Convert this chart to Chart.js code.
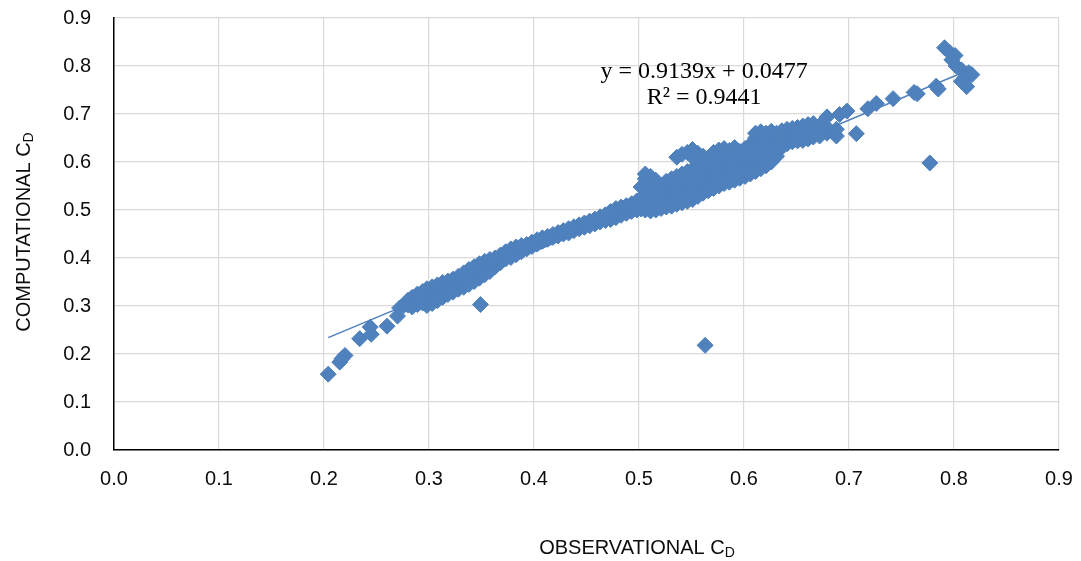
<!DOCTYPE html>
<html>
<head>
<meta charset="utf-8">
<script src="https://cdn.jsdelivr.net/npm/chart.js@4.4.0/dist/chart.umd.min.js"></script>
<style>
  html, body { margin: 0; padding: 0; background: #fff; }
  #wrap { width: 1081px; height: 561px; position: relative; }
</style>
</head>
<body>
<div id="wrap"><canvas id="cdChart"></canvas></div>
<script>
  // eixos
  const axisMin = 0, axisMax = 0.9, tickStep = 0.1;
  const xTitle = 'OBSERVATIONAL C', yTitle = 'COMPUTATIONAL C', titleSub = 'D';

  // linha de tendência (Excel)
  const trendSlope = 0.9139, trendIntercept = 0.0477;
  const eqLine1 = 'y = 0.9139x + 0.0477';
  const eqLine2 = 'R² = 0.9441';

  // pontos isolados da parte de baixo [obs, comp]
  const lowTail = [
    [0.204, 0.158], [0.215, 0.183], [0.217, 0.190], [0.220, 0.197],
    [0.234, 0.232], [0.244, 0.256], [0.245, 0.241], [0.260, 0.258],
    [0.270, 0.279], [0.272, 0.296], [0.276, 0.301]
  ];

  // faixa densa: [obs, [comp...]]
  const bandSlices = [
    [0.280, [0.302, 0.312]],
    [0.284, [0.298, 0.310, 0.318]],
    [0.289, [0.303, 0.316, 0.325]],
    [0.294, [0.306, 0.318, 0.330]],
    [0.298, [0.301, 0.312, 0.324, 0.336]],
    [0.303, [0.305, 0.316, 0.328, 0.340]],
    [0.308, [0.311, 0.322, 0.333, 0.344]],
    [0.313, [0.318, 0.330, 0.341, 0.349]],
    [0.318, [0.324, 0.335, 0.346, 0.352]],
    [0.323, [0.329, 0.340, 0.350, 0.356]],
    [0.328, [0.335, 0.346, 0.355, 0.362]],
    [0.333, [0.339, 0.350, 0.360, 0.369]],
    [0.338, [0.345, 0.356, 0.366, 0.376]],
    [0.343, [0.351, 0.362, 0.372, 0.382]],
    [0.348, [0.358, 0.368, 0.378, 0.388]],
    [0.353, [0.365, 0.375, 0.385, 0.393]],
    [0.358, [0.372, 0.382, 0.391, 0.397]],
    [0.363, [0.382, 0.391, 0.400]],
    [0.368, [0.390, 0.398, 0.406]],
    [0.373, [0.398, 0.406, 0.413]],
    [0.378, [0.401, 0.410, 0.419]],
    [0.383, [0.407, 0.416, 0.423]],
    [0.388, [0.413, 0.420, 0.426]],
    [0.393, [0.419, 0.428]],
    [0.398, [0.424, 0.433]],
    [0.403, [0.429, 0.438]],
    [0.408, [0.435, 0.442]],
    [0.413, [0.439, 0.445]],
    [0.418, [0.443, 0.449]],
    [0.423, [0.446, 0.453]],
    [0.428, [0.450, 0.457]],
    [0.433, [0.452, 0.461]],
    [0.438, [0.457, 0.465]],
    [0.443, [0.461, 0.469]],
    [0.448, [0.464, 0.473]],
    [0.453, [0.467, 0.477]],
    [0.458, [0.471, 0.481]],
    [0.463, [0.475, 0.486]],
    [0.468, [0.478, 0.490]],
    [0.473, [0.480, 0.489, 0.497]],
    [0.478, [0.484, 0.494, 0.503]],
    [0.483, [0.489, 0.498, 0.506]],
    [0.488, [0.493, 0.502, 0.509]],
    [0.493, [0.497, 0.506, 0.513]],
    [0.498, [0.500, 0.510, 0.519]],
    [0.502, [0.502, 0.513, 0.524, 0.548]],
    [0.506, [0.500, 0.512, 0.524, 0.533, 0.565, 0.575]],
    [0.511, [0.498, 0.510, 0.522, 0.534, 0.542, 0.570]],
    [0.516, [0.500, 0.512, 0.524, 0.536, 0.546, 0.562]],
    [0.521, [0.503, 0.515, 0.527, 0.539, 0.551]],
    [0.526, [0.506, 0.518, 0.530, 0.542, 0.554, 0.560]],
    [0.531, [0.508, 0.520, 0.532, 0.544, 0.556, 0.565]],
    [0.536, [0.512, 0.524, 0.536, 0.548, 0.560, 0.570, 0.610]],
    [0.541, [0.515, 0.527, 0.539, 0.551, 0.563, 0.575, 0.616]],
    [0.546, [0.518, 0.530, 0.542, 0.554, 0.566, 0.580, 0.620]],
    [0.551, [0.522, 0.534, 0.546, 0.558, 0.570, 0.585, 0.610, 0.626]],
    [0.556, [0.528, 0.540, 0.552, 0.564, 0.576, 0.588, 0.618]],
    [0.561, [0.535, 0.547, 0.559, 0.571, 0.583, 0.592, 0.612]],
    [0.566, [0.540, 0.552, 0.564, 0.576, 0.588, 0.597]],
    [0.571, [0.545, 0.557, 0.569, 0.581, 0.593, 0.601, 0.620]],
    [0.576, [0.550, 0.562, 0.574, 0.586, 0.598, 0.606, 0.625]],
    [0.581, [0.555, 0.567, 0.579, 0.591, 0.603, 0.611, 0.628]],
    [0.586, [0.558, 0.570, 0.582, 0.594, 0.606, 0.614, 0.624]],
    [0.591, [0.562, 0.574, 0.586, 0.598, 0.610, 0.618, 0.630]],
    [0.596, [0.566, 0.578, 0.590, 0.602, 0.614, 0.622]],
    [0.601, [0.570, 0.582, 0.594, 0.606, 0.618, 0.628]],
    [0.606, [0.575, 0.587, 0.599, 0.611, 0.623, 0.636]],
    [0.611, [0.580, 0.592, 0.604, 0.616, 0.628, 0.640, 0.650, 0.660]],
    [0.616, [0.586, 0.598, 0.610, 0.622, 0.634, 0.646, 0.656, 0.663]],
    [0.621, [0.592, 0.604, 0.616, 0.628, 0.640, 0.652, 0.660]],
    [0.626, [0.600, 0.612, 0.624, 0.636, 0.648, 0.658, 0.664]],
    [0.631, [0.612, 0.624, 0.636, 0.648, 0.660]],
    [0.636, [0.630, 0.642, 0.654, 0.665]],
    [0.641, [0.638, 0.650, 0.660, 0.668]],
    [0.646, [0.642, 0.653, 0.663, 0.670]],
    [0.651, [0.644, 0.655, 0.665, 0.672]],
    [0.656, [0.645, 0.656, 0.666, 0.675]],
    [0.661, [0.648, 0.659, 0.669, 0.678]],
    [0.666, [0.652, 0.662, 0.671, 0.680]],
    [0.672, [0.654, 0.666, 0.676]],
    [0.679, [0.660, 0.672, 0.694]],
    [0.688, [0.654, 0.668]],
    [0.691, [0.699]],
    [0.698, [0.706]],
    [0.707, [0.659]]
  ];

  // pontos da parte de cima [obs, comp]
  const highTail = [
    [0.718, 0.711], [0.726, 0.722], [0.742, 0.732], [0.762, 0.745],
    [0.765, 0.742], [0.783, 0.758], [0.785, 0.752], [0.791, 0.838],
    [0.796, 0.828], [0.801, 0.822], [0.798, 0.813], [0.802, 0.800],
    [0.807, 0.792], [0.814, 0.786], [0.810, 0.775], [0.807, 0.768],
    [0.812, 0.757], [0.817, 0.782]
  ];

  // pontos fora da faixa
  const outliers = [[0.349, 0.303], [0.563, 0.218], [0.777, 0.598]];

  // posição do texto da equação (coordenadas dos dados)
  const eqPosX = 0.562, eqPosY1 = 0.776, eqPosY2 = 0.720;

  const points = [];
  lowTail.forEach(p => points.push({ x: p[0], y: p[1] }));
  bandSlices.forEach(s => s[1].forEach(y => points.push({ x: s[0], y: y })));
  highTail.forEach(p => points.push({ x: p[0], y: p[1] }));
  outliers.forEach(p => points.push({ x: p[0], y: p[1] }));

  const xs = points.map(p => p.x);
  const xLo = Math.min(...xs), xHi = Math.max(...xs);
  const trendData = [
    { x: xLo, y: trendSlope * xLo + trendIntercept },
    { x: xHi, y: trendSlope * xHi + trendIntercept }
  ];

  const blue = '#4F81BD';
  const labelFont = '"Liberation Sans", Arial, sans-serif';

  function drawSubText(ctx, main, sub, cx, cy) {
    ctx.font = '20px ' + labelFont;
    const w1 = ctx.measureText(main).width;
    ctx.font = '14px ' + labelFont;
    const w2 = ctx.measureText(sub).width;
    const x0 = cx - (w1 + w2) / 2;
    ctx.textAlign = 'left';
    ctx.textBaseline = 'middle';
    ctx.font = '20px ' + labelFont;
    ctx.fillText(main, x0, cy);
    ctx.font = '14px ' + labelFont;
    ctx.fillText(sub, x0 + w1, cy + 5);
  }

  // títulos com subscrito e texto da equação
  const annotPlugin = {
    id: 'annot',
    afterDraw(chart) {
      const ctx = chart.ctx;
      const xs = chart.scales.x, ys = chart.scales.y;
      ctx.save();
      ctx.fillStyle = '#0d0d0d';
      drawSubText(ctx, xTitle, titleSub, 637, 548);
      ctx.translate(24, 232);
      ctx.rotate(-Math.PI / 2);
      drawSubText(ctx, yTitle, titleSub, 0, 0);
      ctx.restore();

      ctx.save();
      ctx.fillStyle = '#000';
      ctx.font = '24px "Liberation Serif", "Times New Roman", serif';
      ctx.textAlign = 'center';
      ctx.textBaseline = 'alphabetic';
      ctx.fillText(eqLine1, xs.getPixelForValue(eqPosX), ys.getPixelForValue(eqPosY1));
      ctx.fillText(eqLine2, xs.getPixelForValue(eqPosX), ys.getPixelForValue(eqPosY2));
      ctx.restore();
    }
  };

  // tira o espaço extra que o Chart.js reserva para os rótulos das pontas
  function noEdgePadding(s) {
    s.paddingTop = 0; s.paddingBottom = 0;
    s.paddingLeft = 0; s.paddingRight = 0;
  }

  const ctx = document.getElementById('cdChart').getContext('2d');
  new Chart(ctx, {
    type: 'scatter',
    data: {
      datasets: [
        {
          label: 'Cd',
          data: points,
          pointStyle: 'rectRot',
          pointRadius: 8,
          backgroundColor: blue,
          borderColor: blue,
          borderWidth: 1,
          order: 1
        },
        {
          label: 'Linear',
          data: trendData,
          showLine: true,
          pointRadius: 0,
          borderColor: blue,
          borderWidth: 1.5,
          order: 0
        }
      ]
    },
    options: {
      responsive: true,
      maintainAspectRatio: false,
      animation: false,
      events: [],
      layout: { padding: { left: 40, right: 22, top: 18, bottom: 0 } },
      plugins: {
        legend: { display: false },
        tooltip: { enabled: false }
      },
      scales: {
        x: {
          type: 'linear',
          min: axisMin, max: axisMax,
          afterFit: s => { s.height = 111; noEdgePadding(s); },
          grid: { color: '#d9d9d9', lineWidth: 1.2, drawTicks: false },
          border: { color: '#000', width: 1.5 },
          ticks: {
            stepSize: tickStep,
            padding: 17,
            color: '#0d0d0d',
            font: { family: labelFont, size: 20 },
            callback: v => Number(v).toFixed(1)
          }
        },
        y: {
          type: 'linear',
          min: axisMin, max: axisMax,
          afterFit: s => { s.width = 74; noEdgePadding(s); },
          grid: { color: '#d9d9d9', lineWidth: 1.2, drawTicks: false },
          border: { color: '#000', width: 1.5 },
          ticks: {
            stepSize: tickStep,
            padding: 23,
            color: '#0d0d0d',
            font: { family: labelFont, size: 20 },
            callback: v => Number(v).toFixed(1)
          }
        }
      }
    },
    plugins: [annotPlugin]
  });
</script>
</body>
</html>
